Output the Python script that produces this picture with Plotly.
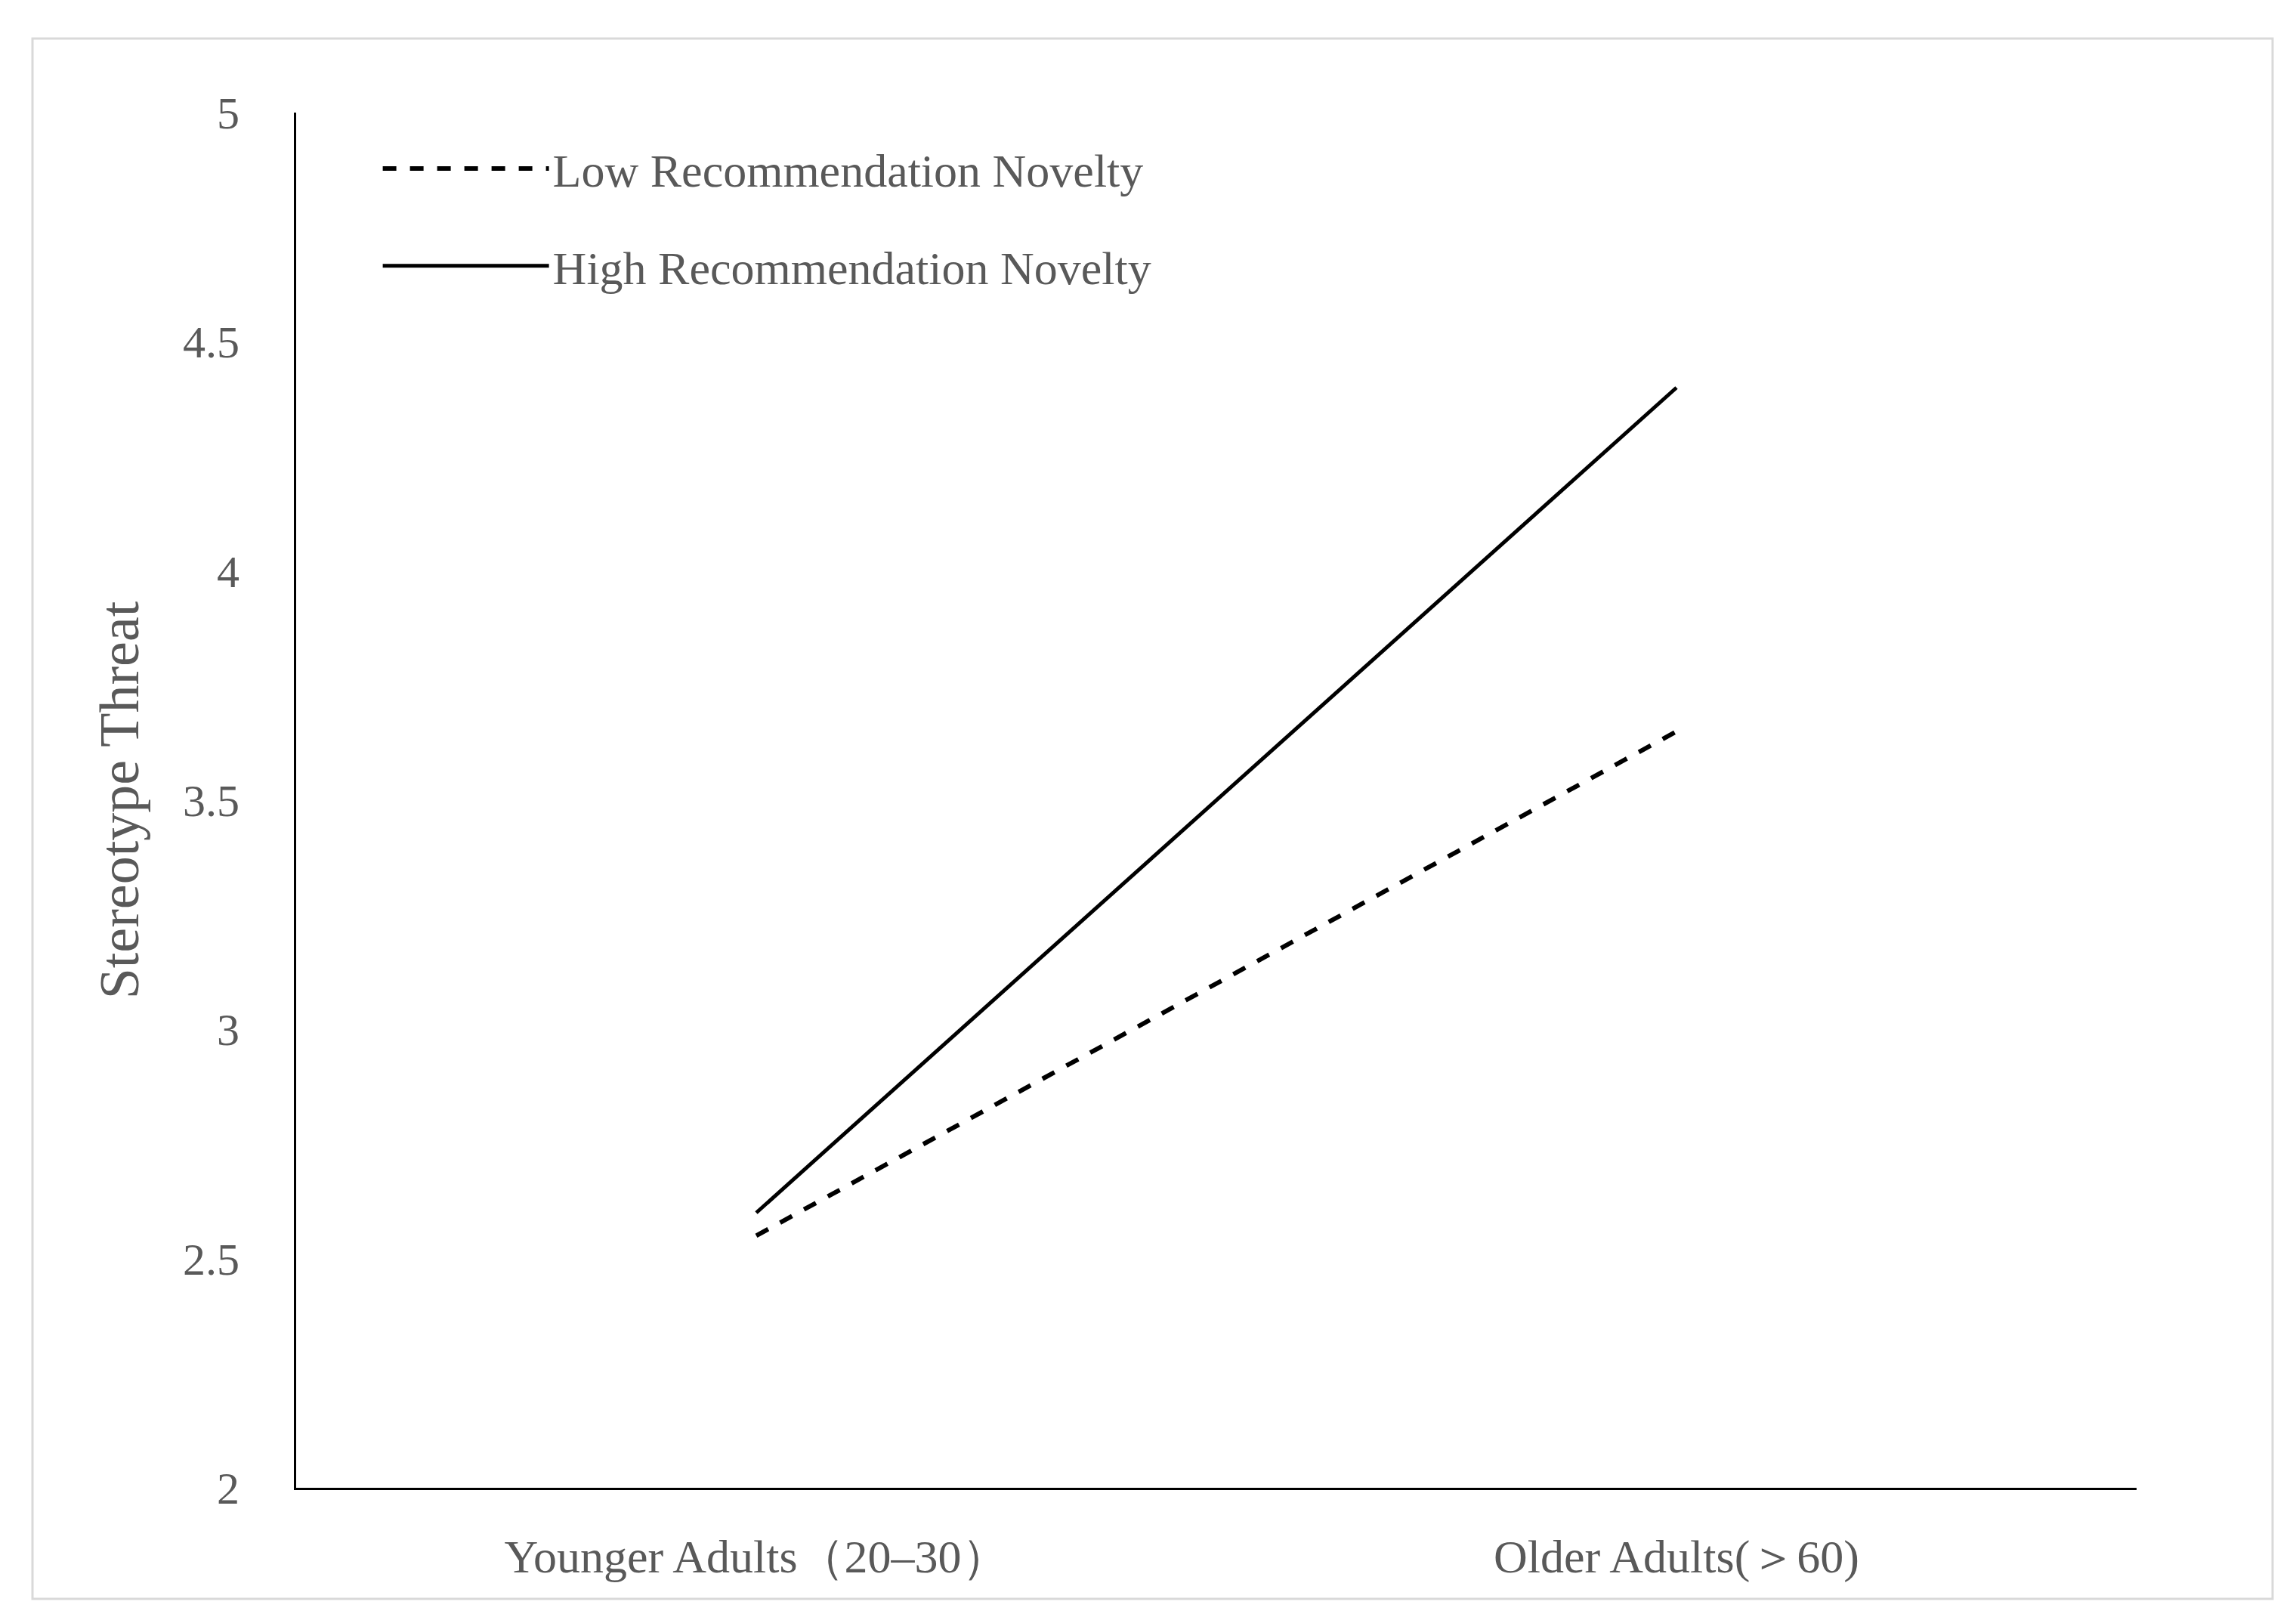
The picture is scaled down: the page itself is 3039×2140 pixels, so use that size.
import plotly.graph_objects as go

categories = ["Younger Adults（20–30）", "Older Adults(＞60)"]
low_novelty = [2.55, 3.65]
high_novelty = [2.6, 4.4]
y_ticks = [2, 2.5, 3, 3.5, 4, 4.5, 5]
y_tick_labels = ["2", "2.5", "3", "3.5", "4", "4.5", "5"]

W, H = 3039, 2140
L, R, T, B = 384, 219, 141, 179
pw, ph = W - L - R, H - T - B

fig = go.Figure()
fig.add_trace(go.Scatter(x=categories, y=low_novelty, mode="lines", name="Low Recommendation Novelty",
                         legendgroup="a", line=dict(color="black", width=6, dash="dash")))
fig.add_trace(go.Scatter(x=categories, y=high_novelty, mode="lines", name="High Recommendation Novelty",
                         legendgroup="b", line=dict(color="black", width=5)))

font = dict(family="Liberation Serif", color="#595959")
fig.update_layout(
    width=W, height=H, margin=dict(l=L, r=R, t=T, b=B),
    paper_bgcolor="white", plot_bgcolor="white",
    font=dict(**font, size=56),
    legend=dict(x=0.045, y=0.985, xanchor="left", yanchor="top", font=dict(**font, size=62),
                itemwidth=220, bgcolor="rgba(0,0,0,0)", tracegroupgap=45),
    xaxis=dict(type="category", showline=True, linecolor="black", linewidth=3, showgrid=False,
               ticks="", tickfont=dict(**font, size=62), ticklabelstandoff=35, range=[-0.5, 1.5]),
    yaxis=dict(range=[2, 5], tickvals=y_ticks, ticktext=y_tick_labels, showline=True, linecolor="black",
               linewidth=3, showgrid=False, ticks="", tickfont=dict(**font, size=60), ticklabelstandoff=60,
               title=dict(text="Stereotype Threat", font=dict(**font, size=74), standoff=35), zeroline=False),
    shapes=[dict(type="rect", xref="paper", yref="paper",
                 x0=(35 - L) / pw, x1=(3000 - L) / pw, y0=(H - B - 2108) / ph, y1=(H - B - 43) / ph,
                 line=dict(color="#d9d9d9", width=3), fillcolor="rgba(0,0,0,0)")],
)
fig.write_html("out.html")
